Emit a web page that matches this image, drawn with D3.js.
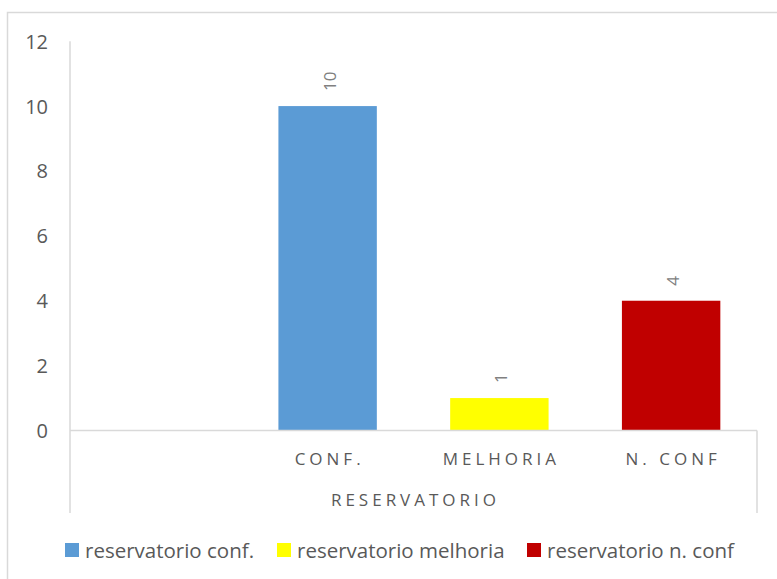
<!DOCTYPE html>
<html>
<head>
<meta charset="utf-8">
<script src="https://cdn.jsdelivr.net/npm/d3@7"></script>
<style>
  html, body { margin: 0; padding: 0; background: #fff; }
  svg { display: block; }
  text { font-family: "Open Sans", "Liberation Sans", sans-serif; }
</style>
</head>
<body>
<svg id="chart" width="777" height="579"></svg>
<script>
// ---- data ----
const categories = ["", "CONF.", "MELHORIA", "N. CONF"];
const seriesNames = ["reservatorio conf.", "reservatorio melhoria", "reservatorio n. conf"];
const seriesValues = [10, 1, 4];           // one value per series
const seriesCategory = ["CONF.", "MELHORIA", "N. CONF"];
const seriesColors = ["#5b9bd5", "#ffff00", "#c00000"];
const yTicks = [0, 2, 4, 6, 8, 10, 12];
const axisTitle = "RESERVATORIO";

// ---- layout ----
const svg = d3.select("#chart");
const plotLeft = 70, plotRight = 757, plotTop = 41.2, zeroY = 430.5, catBottom = 513;

// outer frame (only top and left visible)
svg.append("rect").attr("x", 7.5).attr("y", 12.5).attr("width", 900).attr("height", 900)
  .attr("fill", "none").attr("stroke", "#d9d9d9").attr("stroke-width", 1.5);

const x = d3.scaleBand().domain(categories).range([plotLeft, plotRight]).paddingInner(0).paddingOuter(0);
const y = d3.scaleLinear().domain([0, 12]).range([zeroY, plotTop]);
const barW = x.bandwidth() * 0.573;

// bars
svg.append("g").selectAll("rect").data(seriesValues).join("rect")
  .attr("x", (d, i) => x(seriesCategory[i]) + x.bandwidth() / 2 - barW / 2)
  .attr("y", d => y(d))
  .attr("width", barW)
  .attr("height", d => y(0) - y(d))
  .attr("fill", (d, i) => seriesColors[i]);

// axis lines
const axisColor = "#d9d9d9";
svg.append("line").attr("x1", plotLeft).attr("x2", plotLeft).attr("y1", plotTop).attr("y2", catBottom)
  .attr("stroke", axisColor).attr("stroke-width", 1.5);
svg.append("line").attr("x1", plotLeft).attr("x2", plotRight).attr("y1", zeroY).attr("y2", zeroY)
  .attr("stroke", axisColor).attr("stroke-width", 1.5);
svg.append("line").attr("x1", plotRight).attr("x2", plotRight).attr("y1", zeroY).attr("y2", catBottom)
  .attr("stroke", axisColor).attr("stroke-width", 1.5);

// y tick labels
const yAxis = d3.axisLeft(y).tickValues(yTicks).tickSize(0).tickPadding(0);
const gy = svg.append("g").attr("transform", `translate(48,0)`).call(yAxis);
gy.select(".domain").remove();
gy.selectAll("text").attr("font-size", 20).attr("fill", "#595959")
  .attr("font-family", "'Open Sans', sans-serif").attr("dy", "0.35em");

// category labels
svg.append("g").selectAll("text").data(categories.filter(c => c !== "")).join("text")
  .attr("x", d => x(d) + x.bandwidth() / 2 + 2)
  .attr("y", 465)
  .attr("text-anchor", "middle")
  .attr("font-size", 17)
  .attr("letter-spacing", "4px")
  .attr("fill", "#595959")
  .text(d => d);

// axis title
svg.append("text").attr("x", (plotLeft + plotRight) / 2 + 2).attr("y", 506)
  .attr("text-anchor", "middle").attr("font-size", 17).attr("letter-spacing", "4px")
  .attr("fill", "#595959").text(axisTitle);

// data labels (rotated)
svg.append("g").selectAll("text").data(seriesValues).join("text")
  .attr("transform", (d, i) => `translate(${x(seriesCategory[i]) + x.bandwidth() / 2 + 2},${y(d) - 15}) rotate(-90)`)
  .attr("text-anchor", "start")
  .attr("dy", "0.35em")
  .attr("font-size", 17)
  .attr("fill", "#808080")
  .text(d => d);

// legend
const legendX = [65, 277, 527];
const lg = svg.append("g").selectAll("g").data(seriesNames).join("g")
  .attr("transform", (d, i) => `translate(${legendX[i]},543)`);
lg.append("rect").attr("width", 14).attr("height", 14).attr("fill", (d, i) => seriesColors[i]);
lg.append("text").attr("x", 20).attr("y", 14.5).attr("font-size", 20.5).attr("fill", "#595959").text(d => d);
</script>
</body>
</html>
